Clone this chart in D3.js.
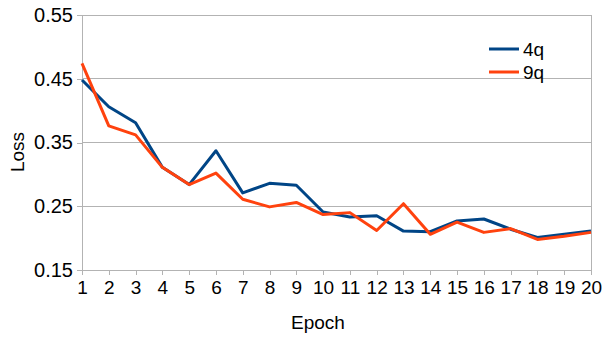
<!DOCTYPE html>
<html><head><meta charset="utf-8">
<script src="https://cdn.jsdelivr.net/npm/d3@7"></script>
<style>body{margin:0;background:#fff}text{font-family:"Liberation Sans",Arial,sans-serif;fill:#000}</style>
</head><body>
<svg id="c" width="605" height="340"></svg>
<script>
const epochs = d3.range(1, 21);
const loss4q = [0.448,0.406,0.381,0.311,0.284,0.337,0.271,0.286,0.283,0.241,0.233,0.235,0.211,0.210,0.227,0.230,0.214,0.201,0.206,0.211];
const loss9q = [0.474,0.376,0.362,0.311,0.284,0.302,0.261,0.249,0.256,0.237,0.240,0.212,0.254,0.206,0.225,0.209,0.215,0.198,0.203,0.209];
const yTicks = [0.15,0.25,0.35,0.45,0.55];
const seriesNames = ["4q","9q"];
const colors = ["#004586","#ff420e"];

const svg = d3.select("#c");
const L=82,R=591,T=15,B=270;
const FS=19;
const x = d3.scalePoint().domain(epochs).range([L,R]);
const y = d3.scaleLinear().domain([0.15,0.55]).range([B,T]);
const grid="#b3b3b3";

svg.append("g").selectAll("line").data(yTicks).join("line")
  .attr("x1",L).attr("x2",R).attr("y1",d=>y(d)).attr("y2",d=>y(d))
  .attr("stroke",grid).attr("stroke-width",1).attr("shape-rendering","crispEdges");
svg.append("line").attr("x1",R).attr("x2",R).attr("y1",T).attr("y2",B).attr("stroke",grid).attr("shape-rendering","crispEdges");

const yAxis = svg.append("g").attr("transform",`translate(${L},0)`)
  .call(d3.axisLeft(y).tickValues(yTicks).tickFormat(d3.format(".2f")).tickSize(5).tickSizeOuter(0).tickPadding(4));
const xAxis = svg.append("g").attr("transform",`translate(0,${B})`)
  .call(d3.axisBottom(x).tickSize(5).tickSizeOuter(0).tickPadding(6));
[yAxis,xAxis].forEach(a=>{
  a.selectAll("path,line").attr("stroke",grid).attr("shape-rendering","crispEdges");
  a.selectAll("text").attr("font-size",FS).attr("font-family","Liberation Sans, Arial, sans-serif").attr("fill","#000");
});
yAxis.selectAll("text").attr("font-size",20);

const data=[loss4q,loss9q];
const line=d3.line().x((d,i)=>x(epochs[i])).y(d=>y(d));
data.forEach((s,k)=>{
  svg.append("path").datum(s).attr("d",line).attr("fill","none")
    .attr("stroke",colors[k]).attr("stroke-width",3).attr("stroke-linejoin","round");
});

seriesNames.forEach((n,k)=>{
  const ly=49+k*23;
  svg.append("line").attr("x1",489).attr("x2",519).attr("y1",ly).attr("y2",ly).attr("stroke",colors[k]).attr("stroke-width",3);
  svg.append("text").attr("x",523).attr("y",ly+7).attr("font-size",FS).text(n);
});

svg.append("text").attr("x",318).attr("y",329).attr("text-anchor","middle").attr("font-size",FS).text("Epoch");
svg.append("text").attr("transform",`translate(24,152) rotate(-90)`).attr("text-anchor","middle").attr("font-size",FS).text("Loss");
</script>
</body></html>
